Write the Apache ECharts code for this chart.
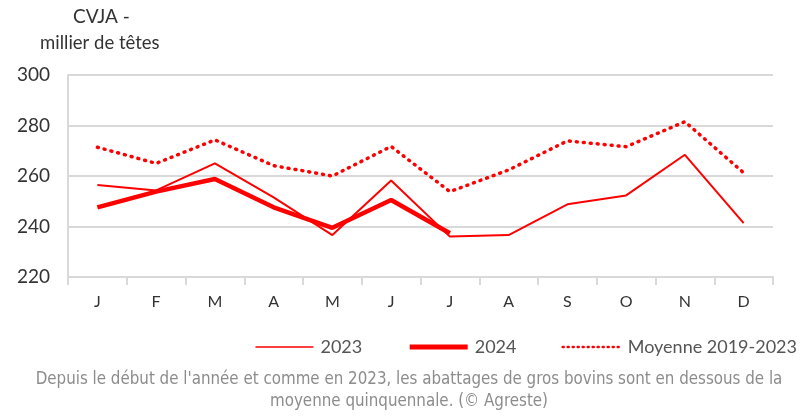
<!doctype html>
<html>
<head>
    <meta charset="utf-8" />
    <title>CVJA - abattages</title>
    <script src="https://cdn.jsdelivr.net/npm/echarts@6/dist/echarts.min.js"></script>
    <style>
        html, body { margin: 0; padding: 0; background: #fff; }
        #main { width: 808px; height: 417px; }
    </style>
</head>
<body>
<div id="main"></div>
<script type="text/javascript">
    // mois
    var mois = ['J', 'F', 'M', 'A', 'M', 'J', 'J', 'A', 'S', 'O', 'N', 'D'];
    // milliers de têtes
    var serie2023 = [256.4, 254.3, 265.0, 251.5, 236.6, 258.2, 236.0, 236.6, 248.8, 252.3, 268.4, 241.3];
    var serie2024 = [247.6, 253.8, 258.8, 247.6, 239.5, 250.5, 237.3];
    var moyenne = [271.4, 265.0, 274.3, 264.1, 260.0, 271.7, 253.8, 262.4, 273.9, 271.6, 281.5, 261.3];
    var yTicks = [220, 240, 260, 280, 300];

    var rouge = '#ff0000';
    var police = 'Lato, "Open Sans", sans-serif';

    var myChart = echarts.init(document.getElementById('main'));

    var option = {
        animation: false,
        backgroundColor: '#fff',
        textStyle: { fontFamily: police },
        graphic: [
            { type: 'text', left: 73, top: 7, style: { text: 'CVJA -', fontSize: 19, fill: '#333', fontFamily: police } },
            { type: 'text', left: 40, top: 34, style: { text: 'millier de têtes', fontSize: 18.5, fill: '#333', fontFamily: police } },
            { type: 'text', x: 409, y: 369, style: {
                text: "Depuis le début de l'année et comme en 2023, les abattages de gros bovins sont en dessous de la\nmoyenne quinquennale. (© Agreste)",
                fontSize: 16.8, lineHeight: 22, fill: '#8c8c8c', align: 'center',
                fontFamily: '"Liberation Sans Narrow", "DejaVu Sans Condensed", sans-serif'
            } }
        ],
        grid: { left: 68, right: 35, top: 75, bottom: 140 },
        legend: {
            right: 6,
            top: 333,
            itemWidth: 58,
            itemHeight: 12,
            itemGap: 45,
            itemStyle: { opacity: 0 },
            textStyle: { fontSize: 18, color: '#555', padding: [0, 0, 0, 2] },
            data: [
                { name: '2023', lineStyle: { width: 1.5, color: rouge } },
                { name: '2024', lineStyle: { width: 5, color: rouge } },
                { name: 'Moyenne 2019-2023', lineStyle: { width: 2.5, color: rouge, type: [1, 4], cap: 'round' } }
            ]
        },
        xAxis: {
            type: 'category',
            data: mois,
            boundaryGap: true,
            axisLine: { lineStyle: { color: '#d9d9d9', width: 2 } },
            axisTick: { show: true, length: 8, lineStyle: { color: '#d9d9d9', width: 2 } },
            axisLabel: { color: '#333', fontSize: 16, margin: 17 }
        },
        yAxis: {
            type: 'value',
            min: yTicks[0],
            max: yTicks[yTicks.length - 1],
            interval: 20,
            axisLine: { show: true, lineStyle: { color: '#d9d9d9', width: 2 } },
            axisTick: { show: false },
            splitLine: { lineStyle: { color: '#d9d9d9', width: 2 } },
            axisLabel: { color: '#333', fontSize: 19, margin: 18 }
        },
        series: [
            {
                name: '2023', type: 'line', data: serie2023, symbol: 'none',
                lineStyle: { width: 2, color: rouge }, itemStyle: { color: rouge }
            },
            {
                name: '2024', type: 'line', data: serie2024, symbol: 'none',
                lineStyle: { width: 4.5, color: rouge }, itemStyle: { color: rouge }
            },
            {
                name: 'Moyenne 2019-2023', type: 'line', data: moyenne, symbol: 'none',
                lineStyle: { width: 3.5, color: rouge, type: [1, 6], cap: 'round' }, itemStyle: { color: rouge }
            }
        ]
    };

    myChart.setOption(option);
</script>
</body>
</html>
